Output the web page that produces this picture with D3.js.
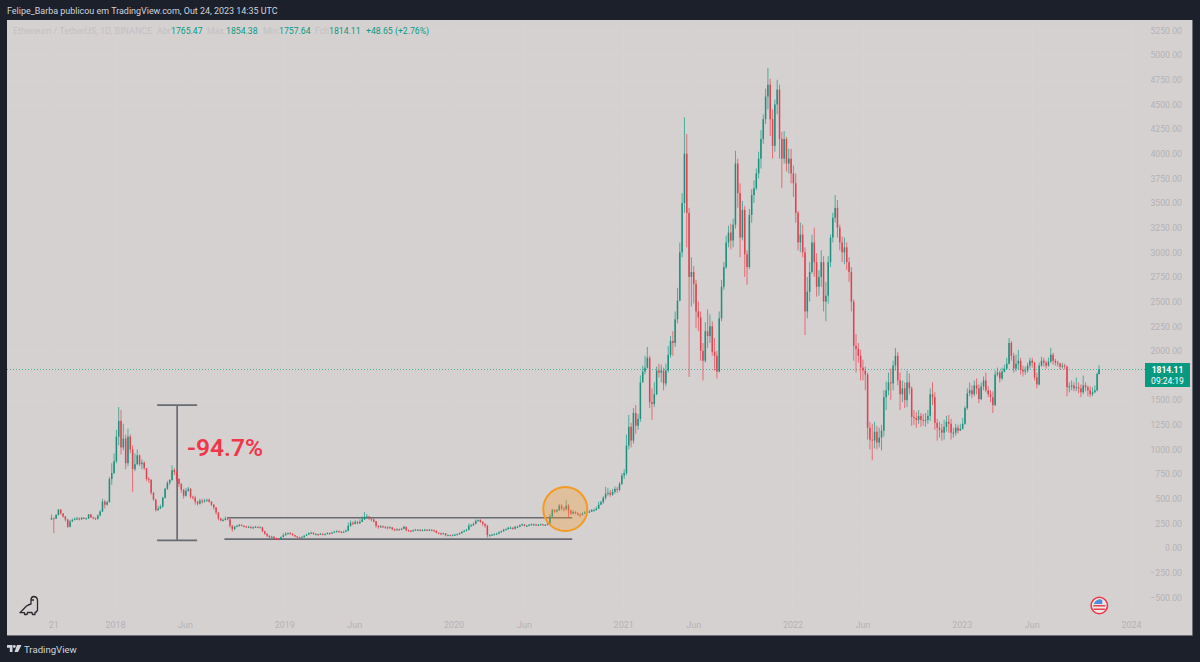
<!DOCTYPE html>
<html>
<head>
<meta charset="utf-8">
<title>ETHUSDT 1D</title>
<script src="https://cdnjs.cloudflare.com/ajax/libs/d3/7.8.5/d3.min.js"></script>
<style>
  html, body { margin: 0; padding: 0; background: #1c202b; }
  svg { display: block; }
  text { font-family: Roboto, "Noto Sans", sans-serif; }
</style>
</head>
<body>
<svg id="chart" width="1200" height="662"></svg>
<script>
// Five-day candles of ETH/USDT, sampled from Aug 2017 to Oct 2023.
const firstDate = "2017-08-17";
const lastDate = "2023-10-24";
const dayStep = 5;
const firstOpen = 290;

const closes = [
  302,298,335,390,350,320,290,215,270,285, 295,300,290,305,300,300,340,310,300,295, 330,370,470,440,465,700,760,
  // 2018
  880,1130,1290,1020,1110,860,1130,1000,800,850, 940,850,865,810,700,690,560,490,385,400,
  420,510,600,660,690,790,770,700,650,590, 530,580,600,520,510,470,450,480,470,480,
  490,470,440,410,360,300,280,285,300,290, 225,190,215,225,235,225,220,215,215,205,
  210,215,210,210,170,145,125,110,115,95, 90,85,110,
  // 2019
  130,145,150,145,130,118,108,105,110,125, 135,150,155,140,140,135,145,135,140,150,
  145,155,165,170,165,160,165,175,225,255, 245,265,250,265,290,310,320,300,290,270,
  225,215,220,215,210,205,210,190,185,190, 185,195,215,180,175,170,180,185,185,180,
  182,185,180,185,180,175,155,150,145,148, 130,130,128,
  // 2020
  130,135,140,150,165,175,185,225,230,245, 275,285,265,245,225,130,130,135,140,145,
  160,170,185,190,205,205,195,215,215,230, 240,225,225,235,240,240,230,235,240,235,
  235,250,320,385,370,385,430,400,395,430, 380,350,365,355,340,335,350,360,370,370,
  385,385,400,440,465,510,550,560,540,570, 600,590,650,
  // 2021
  735,760,1040,1230,1090,1370,1240,1310,1680,1790, 1830,1930,1480,1460,1560,1800,1780,1800,1670,1800,
  1960,2100,2080,2320,2510,3000,3500,4000,3400,2750, 2800,2680,2400,2340,2000,1900,2200,2150,2250,1990,
  1950,1790,2330,2650,2850,3100,3200,3120,3280,3900, 3600,3150,3430,2980,2850,3380,3580,3650,3800,3950,
  4150,4350,4580,4700,4350,4080,4500,4650,4150,3950, 4150,3900,3950,
  // 2022
  3800,3700,3400,3100,3180,3000,2400,2600,2800,3100, 2900,2650,2750,2900,2500,2560,2900,3150,3350,3450,
  3250,3100,3000,3050,2900,2800,2500,2050,2020,1950, 1830,1800,1760,1220,1100,1090,1180,1070,1120,1190,
  1530,1600,1680,1670,1850,1950,1700,1560,1620,1500, 1680,1620,1330,1320,1300,1340,1300,1290,1300,1340,
  1560,1530,1270,1220,1200,1170,1230,1280,1260,1170, 1170,1220,1190,
  // 2023
  1210,1260,1420,1570,1600,1560,1650,1620,1510,1640, 1700,1600,1560,1530,1450,1760,1780,1720,1790,1820,
  1870,2080,1950,1820,1870,1900,1810,1790,1800,1850, 1900,1880,1730,1660,1850,1900,1880,1850,1890,1960,
  1900,1880,1870,1840,1850,1840,1630,1640,1650,1620, 1630,1620,1580,1650,1630,1600,1560,1580,1600,1765.47,
  1814.11
];

const highs = [
  340,310,345,395,395,355,325,295,285,300, 310,315,310,315,315,310,345,345,320,310, 340,385,500,490,480,720,860,
  // 2018
  960,1200,1430,1400,1260,1150,1210,1150,1040,960, 1000,950,900,880,810,720,700,570,500,430,
  440,520,610,680,700,840,810,780,710,660, 600,610,620,610,530,530,480,500,500,500,
  500,500,475,445,415,365,305,300,320,310, 295,235,225,235,245,240,230,225,225,220,
  220,225,220,220,215,175,150,125,125,118, 105,100,118,
  // 2019
  150,160,160,160,150,135,120,115,120,130, 145,160,165,158,150,145,152,148,150,160,
  158,165,175,180,178,172,175,190,260,280, 272,285,275,290,320,365,345,325,310,300,
  275,232,232,228,222,222,220,212,198,200, 198,205,225,218,188,182,190,195,192,192,
  192,195,192,195,190,188,178,158,155,155, 150,138,135,
  // 2020
  140,145,148,158,172,185,195,250,245,260, 288,290,290,272,250,235,140,145,150,155,
  170,178,195,200,215,218,212,225,228,240, 250,245,235,245,250,250,245,245,250,245,
  245,270,345,400,395,395,445,445,420,490, 445,390,385,375,365,350,365,375,385,385,
  395,400,420,470,480,525,620,610,590,600, 625,620,670,
  // 2021
  760,800,1150,1350,1270,1420,1450,1360,1750,1850, 1950,2040,1950,1620,1680,1840,1870,1860,1830,1870,
  2050,2150,2200,2400,2640,3100,3600,4370,4200,3450, 2950,2860,2720,2500,2400,2080,2290,2420,2370,2300,
  2130,2000,2400,2720,2900,3170,3270,3290,3340,4030, 3950,3700,3520,3470,3020,3440,3640,3730,3850,4020,
  4240,4400,4660,4870,4760,4450,4550,4750,4700,4220, 4230,4170,4050,
  // 2022
  4050,3880,3800,3420,3300,3280,3050,2750,2900,3180, 3250,2990,2820,3020,2960,2700,2960,3180,3400,3580,
  3530,3280,3160,3150,3100,2950,2850,2520,2170,2080, 2010,1910,1840,1780,1280,1260,1280,1240,1220,1250,
  1600,1690,1780,1820,1900,2030,1990,1780,1700,1680, 1800,1770,1640,1400,1380,1400,1370,1360,1370,1400,
  1620,1680,1580,1310,1280,1260,1300,1340,1350,1310, 1220,1260,1250,
  // 2023
  1260,1320,1440,1620,1680,1650,1700,1720,1660,1680, 1740,1780,1640,1600,1590,1800,1830,1800,1830,1860,
  1930,2130,2100,1980,1960,2010,1930,1850,1840,1880, 1930,1930,1890,1780,1880,1940,1930,1900,1930,2030,
  1980,1920,1900,1880,1880,1870,1850,1680,1700,1680, 1730,1680,1660,1750,1680,1650,1640,1630,1650,1780,
  1854.38
];

const lows = [
  285,150,295,330,340,310,270,205,210,265, 280,285,280,285,295,290,295,305,290,285, 290,320,365,400,430,460,640,
  // 2018
  750,860,1040,950,990,800,830,960,570,780, 840,830,800,790,680,660,540,480,370,375,
  395,410,500,590,640,680,740,680,620,560, 500,520,570,500,490,440,430,440,450,460,
  470,460,425,390,340,280,270,270,280,280, 205,165,185,210,215,220,210,205,205,195,
  195,205,200,205,160,135,110,100,105,88, 82,82,82,
  // 2019
  120,125,140,135,125,110,100,82,100,105, 122,135,145,135,132,125,132,128,135,140,
  135,142,155,160,158,150,155,160,170,215, 230,240,240,245,265,285,295,285,270,260,
  205,195,205,205,195,190,200,180,170,178, 175,180,190,170,165,160,165,175,175,170,
  170,175,172,175,170,165,150,140,130,140, 118,122,122,
  // 2020
  122,125,130,135,145,160,170,180,215,225, 240,265,255,225,205,105,115,125,130,135,
  140,155,165,180,188,195,185,190,205,212, 225,218,215,220,230,225,222,225,230,228,
  225,230,245,310,355,360,375,380,370,380, 310,335,340,340,325,310,330,345,355,355,
  365,370,380,395,435,450,490,530,520,530, 550,560,575,
  // 2021
  640,700,740,1000,1020,1060,1160,1200,1280,1680, 1760,1820,1420,1300,1430,1550,1730,1680,1600,1640,
  1780,1930,1950,2040,2280,2500,2950,3400,3050,1735, 2450,2480,2230,2200,1900,1700,1880,2030,2080,1950,
  1800,1720,1780,2300,2620,2830,3050,3030,3050,3240, 3450,2950,3120,2750,2670,2830,3300,3500,3630,3750,
  3850,4100,4300,4450,4180,3950,4020,4400,3950,3650, 3900,3820,3800,
  // 2022
  3700,3560,3300,3020,3000,2950,2160,2330,2500,2780, 2750,2550,2560,2650,2400,2300,2480,2850,3100,3300,
  3150,3020,2900,2880,2820,2700,2400,1900,1780,1880, 1700,1700,1600,1100,1000,890,1010,1000,1020,990,
  1130,1400,1550,1500,1600,1800,1650,1400,1480,1420, 1430,1560,1240,1250,1220,1260,1230,1240,1230,1260,
  1290,1450,1200,1090,1120,1090,1100,1180,1170,1100, 1120,1140,1160,
  // 2023
  1190,1200,1250,1400,1540,1520,1540,1560,1470,1500, 1600,1580,1530,1480,1370,1440,1740,1680,1700,1780,
  1810,1860,1900,1780,1790,1810,1760,1740,1760,1780, 1820,1830,1700,1620,1650,1840,1840,1820,1840,1880,
  1860,1850,1840,1810,1820,1810,1540,1580,1600,1590, 1590,1570,1530,1560,1590,1540,1530,1540,1570,1590,
  1757.64
];

// 1750 is left out: the last-price tag covers that spot on the price scale.
const priceTicks = [-500,-250,0,250,500,750,1000,1250,1500,2000,2250,2500,2750,3000,3250,3500,3750,4000,4250,4500,4750,5000,5250];
const timeTicks = ["2017-08-21","2018-01-01","2018-06-01","2019-01-01","2019-06-01","2020-01-01","2020-06-01","2021-01-01","2021-06-01","2022-01-01","2022-06-01","2023-01-01","2023-06-01","2024-01-01"];
const timeLabels = ["21","2018","Jun","2019","Jun","2020","Jun","2021","Jun","2022","Jun","2023","Jun","2024"];

// Drawn overlays, in price and date units.
const dropTop = 1450;
const dropBottom = 76.85;
const dropDate = "2018-05-15";
const dropLabel = "-94.7%";
const channelHigh = 307;
const channelLow = 91;
const channelUpperStart = "2018-08-31";
const channelLowerStart = "2018-08-25";
const channelEnd = "2020-09-13";
const circleDate = "2020-08-29";
const circlePrice = 395;

const lastPrice = 1814.11;
const countdown = "09:24:19";
const legendItems = [
  ["Abr", "1765.47", 157, 171],
  ["Máx.", "1854.38", 207, 226],
  ["Mín.", "1757.64", 263, 279],
  ["Fch", "1814.11", 315, 329]
];
const legendChange = "+48.65 (+2.76%)";
const headline = "Felipe_Barba publicou em TradingView.com, Out 24, 2023 14:35 UTC";
const symbolName = "Ethereum / TetherUS, 1D, BINANCE";

const UP = "#089981", DOWN = "#f23645", AXIS_TEXT = "#b4b2b4", LEGEND_TEXT = "#c2bfc0", MARK_GREY = "#696b73";
const SMALL = 8.7;

const parse = d3.utcParse("%Y-%m-%d");
const start = parse(firstDate), end = parse(lastDate);

const candles = closes.map((c, i) => {
  const d = d3.utcDay.offset(start, i * dayStep);
  return {
    date: d > end ? end : d,
    open: i ? closes[i - 1] : firstOpen,
    high: highs[i], low: lows[i], close: c
  };
});

const svg = d3.select("#chart");
const panel = { left: 7, top: 20, right: 1192, bottom: 635 };

const x = d3.scaleUtc().domain([parse("2018-01-01"), parse("2024-01-01")]).range([115, 1131]);
const y = d3.scaleLinear().domain([-500, 5250]).range([597.3, 30.5]);

// Panel background
svg.append("rect").attr("x", panel.left).attr("y", panel.top)
  .attr("width", panel.right - panel.left).attr("height", panel.bottom - panel.top)
  .attr("fill", "#d6d1d1");
svg.append("path")
  .attr("d", `M${panel.left},${panel.bottom + 0.5}H${panel.right + 0.5}V${panel.top}`)
  .attr("fill", "none").attr("stroke", "#6d6e76").attr("stroke-width", 1);

// Faint grid
const grid = svg.append("g").attr("stroke", "#d8d3d3").attr("stroke-width", 1);
grid.selectAll("line.h").data(priceTicks).join("line").attr("class", "h")
  .attr("x1", panel.left).attr("x2", 1143)
  .attr("y1", d => Math.round(y(d)) + 0.5).attr("y2", d => Math.round(y(d)) + 0.5);
grid.selectAll("line.v").data(timeTicks).join("line").attr("class", "v")
  .attr("y1", panel.top).attr("y2", 612)
  .attr("x1", d => Math.round(x(parse(d))) + 0.5).attr("x2", d => Math.round(x(parse(d))) + 0.5);

// Price axis
const yAxis = svg.append("g").attr("transform", "translate(1182,0)")
  .call(d3.axisLeft(y).tickValues(priceTicks).tickSize(0).tickPadding(0)
    .tickFormat(d => (d < 0 ? "\u2212" : "") + d3.format(".2f")(Math.abs(d))));
yAxis.select(".domain").remove();
yAxis.selectAll("text").attr("fill", AXIS_TEXT).attr("font-size", SMALL);

// Time axis
const xAxis = svg.append("g").attr("transform", "translate(0,616)")
  .call(d3.axisBottom(x).tickValues(timeTicks.map(parse)).tickSize(0).tickPadding(5.5)
    .tickFormat((d, i) => timeLabels[i]));
xAxis.select(".domain").remove();
xAxis.selectAll("text").attr("fill", AXIS_TEXT).attr("font-size", 9);

// Drop annotation sits behind the candles
const dropX = x(parse(dropDate));
const drop = svg.append("g").attr("stroke", MARK_GREY).attr("stroke-width", 1.7);
drop.append("line").attr("x1", dropX).attr("x2", dropX).attr("y1", y(dropTop)).attr("y2", y(dropBottom));
[dropTop, dropBottom].forEach(v => drop.append("line")
  .attr("x1", dropX - 20).attr("x2", dropX + 20).attr("y1", y(v)).attr("y2", y(v)));

// Channel lines
const channel = svg.append("g").attr("stroke", MARK_GREY).attr("stroke-width", 1.7);
channel.append("line").attr("x1", x(parse(channelUpperStart))).attr("x2", x(parse(channelEnd)))
  .attr("y1", y(channelHigh)).attr("y2", y(channelHigh));
channel.append("line").attr("x1", x(parse(channelLowerStart))).attr("x2", x(parse(channelEnd)))
  .attr("y1", y(channelLow)).attr("y2", y(channelLow));

// Last price line
svg.append("line").attr("x1", panel.left).attr("x2", 1145)
  .attr("y1", Math.round(y(lastPrice)) + 0.5).attr("y2", Math.round(y(lastPrice)) + 0.5)
  .attr("stroke", "#4fae9b").attr("stroke-width", 1).attr("stroke-dasharray", "1 2");

// Candles
const barG = svg.append("g");
barG.selectAll("line.wick").data(candles).join("line").attr("class", "wick")
  .attr("x1", d => x(d.date)).attr("x2", d => x(d.date))
  .attr("y1", d => y(d.high)).attr("y2", d => y(d.low))
  .attr("stroke", d => d.close >= d.open ? UP : DOWN)
  .attr("stroke-opacity", 0.75).attr("stroke-width", 0.9);
barG.selectAll("rect.body").data(candles).join("rect").attr("class", "body")
  .attr("x", d => x(d.date) - 0.75).attr("width", 1.5)
  .attr("y", d => y(Math.max(d.open, d.close)))
  .attr("height", d => Math.max(1, Math.abs(y(d.open) - y(d.close))))
  .attr("fill", d => d.close >= d.open ? "#1f8f7c" : "#dc4452");

// Breakout circle
svg.append("circle").attr("cx", x(parse(circleDate))).attr("cy", y(circlePrice)).attr("r", 22)
  .attr("fill", "#f59d2a").attr("fill-opacity", 0.32)
  .attr("stroke", "#f39a22").attr("stroke-width", 2);

// Drop percentage
svg.append("text").attr("x", 187).attr("y", 456).attr("font-size", 24.5).attr("font-weight", 600)
  .attr("font-family", "'Open Sans', sans-serif")
  .attr("fill", "#f0364a").text(dropLabel);

// Price tag
svg.append("rect").attr("x", 1145).attr("y", 363).attr("width", 45).attr("height", 24).attr("fill", UP);
svg.append("text").attr("x", 1167.5).attr("y", 373).attr("text-anchor", "middle").attr("font-size", 8.5)
  .attr("font-weight", 700).attr("fill", "#fff").text(d3.format(".2f")(lastPrice));
svg.append("text").attr("x", 1167.5).attr("y", 383.6).attr("text-anchor", "middle").attr("font-size", 8.5)
  .attr("fill", "#fff").text(countdown);

// Header text
svg.append("text").attr("x", 7).attr("y", 14).attr("font-size", 8.95).attr("fill", "#d1d4dc").text(headline);

// Symbol legend
svg.append("text").attr("x", 13).attr("y", 33.5).attr("font-size", 9).attr("fill", LEGEND_TEXT).text(symbolName);
legendItems.forEach(([name, value, nameX, valueX]) => {
  svg.append("text").attr("x", nameX).attr("y", 33.5).attr("font-size", SMALL).attr("fill", LEGEND_TEXT).text(name);
  svg.append("text").attr("x", valueX).attr("y", 33.5).attr("font-size", SMALL).attr("fill", UP).text(value);
});
svg.append("text").attr("x", 366).attr("y", 33.5).attr("font-size", SMALL).attr("fill", UP).text(legendChange);

// Footer brand
const brand = svg.append("g").attr("transform", "translate(7,645)").attr("fill", "#d1d4dc");
brand.append("path").attr("d", "M0,0H5.5V7H2.8V2.8H0Z M10,0H14.5L11,7H7.5Z");
brand.append("circle").attr("cx", 7.3).attr("cy", 1.5).attr("r", 1.4);
svg.append("text").attr("x", 24).attr("y", 652.5).attr("font-size", 9.6).attr("fill", "#d1d4dc").text("TradingView");

// Dinosaur badge
svg.append("path")
  .attr("d", "M20,612.7 L26.5,606 Q29,604.5 31,604 L31,600 Q31,597 33.5,596.5 Q37,596.5 37.5,600 L37.5,610 Q37,612 35,612.5 L35,614.5 H32.5 L32,612.5 H27.5 L27,614.5 H24.5 L24.5,612.7 Z M31,600 H34")
  .attr("fill", "none").attr("stroke", "#2a2a30").attr("stroke-width", 1.3).attr("stroke-linejoin", "round");

// Earnings flag badge
const flag = svg.append("g").attr("transform", "translate(1099.3,605.5)");
flag.append("circle").attr("r", 8.2).attr("fill", "#efe6e6").attr("stroke", "#e8384a").attr("stroke-width", 1.6);
flag.append("path").attr("d", "M-6,-0.5H6V1H-6Z M-5.5,3H5.5V4.5H-5.5Z").attr("fill", "#e0404f");
flag.append("path").attr("d", "M-5.5,-1.5 A6,6 0 0 1 3,-5.5 V-1.5 Z").attr("fill", "#4a90d9");
</script>
</body>
</html>
